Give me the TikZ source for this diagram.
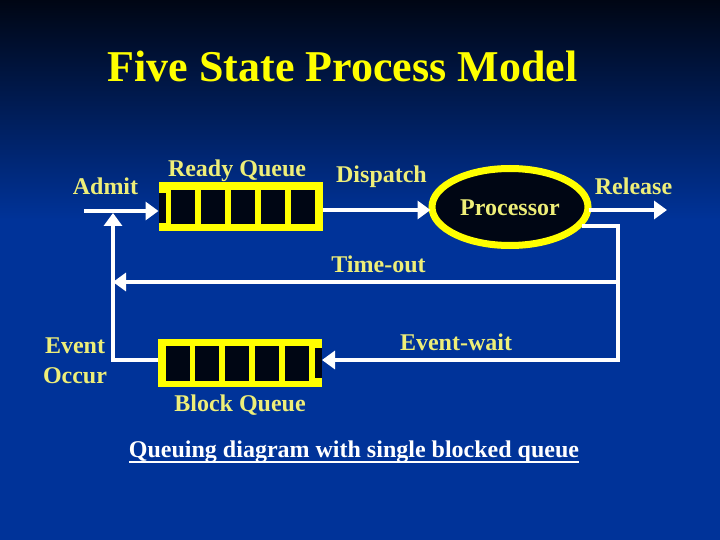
\documentclass[tikz,border=0pt]{standalone}
\usepackage{fontspec}
\setmainfont{Liberation Serif}
\usetikzlibrary{arrows.meta,shapes.geometric}
\definecolor{bgtop}{RGB}{0,6,20}
\definecolor{bgblue}{RGB}{0,51,153}
\definecolor{qyellow}{RGB}{255,255,0}
\definecolor{lblyellow}{RGB}{238,238,120}
\definecolor{cellblack}{RGB}{0,6,20}
\tikzset{
  lbl/.style={text=lblyellow, font=\bfseries\fontsize{24}{28}\selectfont, inner sep=0pt, anchor=base},
  wline/.style={draw=white, line width=4pt},
  warrow/.style={wline, -{Triangle[length=13pt,width=18pt]}},
  qbox/.style={rectangle, fill=qyellow, minimum width=164pt, minimum height=49pt, inner sep=0pt, outer sep=0pt},
  cell/.style={fill=cellblack},
  procshape/.style={ellipse, draw=qyellow, line width=7pt, fill=cellblack, minimum width=156pt, minimum height=77pt, inner sep=0pt}
}
\begin{document}
\begin{tikzpicture}[x=1pt,y=-1pt]
\useasboundingbox (0,0) rectangle (720,540);
% background
\shade[top color=bgtop, bottom color=bgblue] (0,0) rectangle (720,220);
\fill[bgblue] (0,219.5) rectangle (720,540);

% title
\node[text=qyellow, font=\bfseries\fontsize{44}{50}\selectfont, inner sep=0pt, anchor=base] (title) at (342.5,82) {Five State Process Model};

% ready queue
\node[qbox] (rq) at (240.5,206.5) {};
\fill[cell] (159,193) rectangle (166,223);
\foreach \x in {171,201,231,261,291} \fill[cell] (\x,190) rectangle (\x+24,224);

% block queue
\node[qbox, minimum height=48pt] (bq) at (240,363) {};
\fill[cell] (315,348) rectangle (322,378);
\foreach \x in {166,195,225,255,285} \fill[cell] (\x,346) rectangle (\x+24,381);

% processor
\node[procshape] (proc) at (510,207) {};
\node[lbl, anchor=base] (proclbl) at (510,215) {Processor};

% levels
\coordinate (lvl) at (0,210);
\coordinate (admitstart) at (84,211);
\coordinate (rel) at (667,210);
\coordinate (rc) at (618,360);
\coordinate (to) at (618,282);
\coordinate (lc) at (113,282);
\coordinate (ae) at (113,213);

% connectors
\draw[warrow] (admitstart) -- (rq.west |- admitstart);
\draw[warrow] (rq.east |- lvl) -- ([xshift=2pt]proc.west |- lvl);
\draw[warrow] ([xshift=-3pt]proc.east |- lvl) -- (rel);
\draw[warrow, line join=miter] (proc.-15) -| (rc) -- (bq.east |- rc);
\draw[warrow, shorten >=-1pt] (to) -- ([xshift=1pt]lc);
\draw[warrow, line join=miter] (bq.west |- rc) -| (ae);

% labels
\node[lbl] (admit) at (105.5,195) {Admit};
\node[lbl] (rqlbl) at (237,177) {Ready Queue};
\node[lbl] (disp) at (381.5,183) {Dispatch};
\node[lbl] (rellbl) at (633.5,195) {Release};
\node[lbl] (tolbl) at (378.5,272) {Time-out};
\node[lbl] (ewlbl) at (456,350) {Event-wait};
\node[lbl] (ev) at (75,353) {Event};
\node[lbl] (oc) at (75,383) {Occur};
\node[lbl] (bqlbl) at (240,411) {Block Queue};

% caption
\node[lbl, text=white] (cap) at (354,457) {Queuing diagram with single blocked queue};
\draw[white, line width=2pt] ([yshift=-5pt]cap.base west) -- ([yshift=-5pt]cap.base east);
\end{tikzpicture}
\end{document}
